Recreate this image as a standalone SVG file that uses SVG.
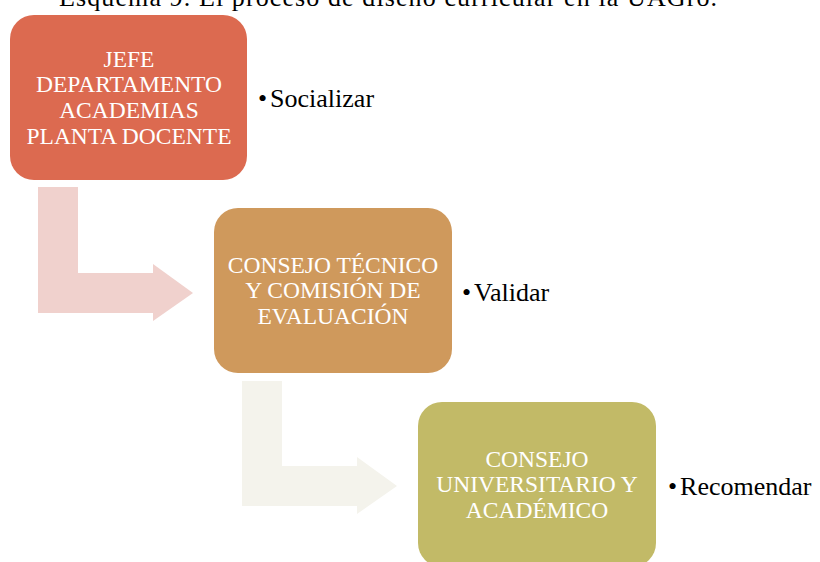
<svg xmlns="http://www.w3.org/2000/svg" width="820" height="562" viewBox="0 0 820 562">
<style>
.box-text{font-family:"Liberation Serif","Times New Roman",serif;font-size:23.5px;fill:#ffffff;text-anchor:middle}
.bullet{font-family:"Liberation Serif","Times New Roman",serif;font-size:26px;fill:#000000}
.title{font-family:"Liberation Serif","Times New Roman",serif;font-size:26px;fill:#000000}
</style>
<rect width="820" height="562" fill="#ffffff"/>
<text class="title" x="59" y="6" textLength="658">Esquema 9. El proceso de diseño curricular en la UAGro.</text>
<g id="connectors">
  <path id="arrow1" d="M38 187 H78 V273 H153 V264 L193 293 L153 321 V313 H38 Z" fill="#F0D1CD"/>
  <path id="arrow2" d="M242 381 H282 V466 H357 V457 L397 486 L357 514 V506 H242 Z" fill="#F4F3EC"/>
</g>
<g id="node1">
  <rect x="10" y="15" width="237" height="165" rx="24" fill="#DC6A50"/>
  <text class="box-text" x="129" y="67">JEFE</text>
  <text class="box-text" x="129" y="92">DEPARTAMENTO</text>
  <text class="box-text" x="129" y="117.5">ACADEMIAS</text>
  <text class="box-text" x="129" y="144">PLANTA DOCENTE</text>
</g>
<g id="label1"><text class="bullet" x="258" y="106.5">•<tspan dx="3">Socializar</tspan></text></g>
<g id="node2">
  <rect x="214" y="208" width="238" height="165" rx="24" fill="#CF995C"/>
  <text class="box-text" x="333" y="273">CONSEJO TÉCNICO</text>
  <text class="box-text" x="333" y="298">Y COMISIÓN DE</text>
  <text class="box-text" x="333" y="324">EVALUACIÓN</text>
</g>
<g id="label2"><text class="bullet" x="462" y="300.5">•<tspan dx="3">Validar</tspan></text></g>
<g id="node3">
  <rect x="418" y="402" width="238" height="165" rx="24" fill="#C2BA67"/>
  <text class="box-text" x="537" y="467">CONSEJO</text>
  <text class="box-text" x="537" y="492">UNIVERSITARIO Y</text>
  <text class="box-text" x="537" y="518">ACADÉMICO</text>
</g>
<g id="label3"><text class="bullet" x="668" y="494.5">•<tspan dx="3">Recomendar</tspan></text></g>
</svg>
